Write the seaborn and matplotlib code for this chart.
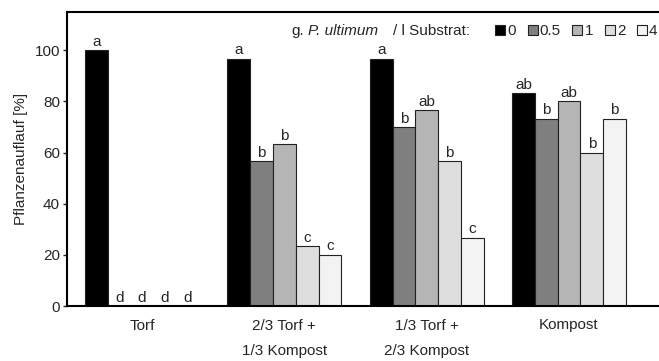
import pandas as pd
import matplotlib.pyplot as plt
import seaborn as sns
from matplotlib.patches import Patch

# Substrate categories and P. ultimum dose levels (g / l substrate)
substrate = ["Torf", "2/3 Torf +\n1/3 Kompost", "1/3 Torf +\n2/3 Kompost", "Kompost"]
doses = ["0", "0.5", "1", "2", "4"]

# emergence [%] per dose, in the order of substrate
auflauf_0 = [100, 96.7, 96.7, 83.3]
auflauf_05 = [0, 56.7, 70.0, 73.3]
auflauf_1 = [0, 63.3, 76.7, 80.0]
auflauf_2 = [0, 23.3, 56.7, 60.0]
auflauf_4 = [0, 20.0, 26.7, 73.3]

# significance letters per dose
letters_0 = ["a", "a", "a", "ab"]
letters_05 = ["d", "b", "b", "b"]
letters_1 = ["d", "b", "ab", "ab"]
letters_2 = ["d", "c", "b", "b"]
letters_4 = ["d", "c", "c", "b"]

colors = ["#000000", "#7f7f7f", "#b5b5b5", "#dedede", "#f3f3f3"]


def main():
    values = [auflauf_0, auflauf_05, auflauf_1, auflauf_2, auflauf_4]
    letters = [letters_0, letters_05, letters_1, letters_2, letters_4]

    rows = []
    for d, vals in zip(doses, values):
        for s, v in zip(substrate, vals):
            rows.append({"substrat": s, "dosis": d, "auflauf": v})
    df = pd.DataFrame(rows)

    sns.set_style("white")
    plt.rcParams["font.family"] = ["Liberation Sans", "DejaVu Sans"]

    fig = plt.figure(figsize=(6.59, 3.61), dpi=100)
    ax = fig.add_axes([67 / 659, 55 / 361, 592 / 659, 294 / 361])

    sns.barplot(data=df, x="substrat", y="auflauf", hue="dosis",
                order=substrate, hue_order=doses, palette=colors,
                width=0.8, edgecolor="#222222", linewidth=0.8,
                saturation=1, errorbar=None, legend=False, ax=ax)

    for cont, labs in zip(ax.containers, letters):
        ax.bar_label(cont, labels=labs, padding=1, fontsize=11)

    ax.set_ylim(0, 115)
    ax.set_xlim(-0.527, 3.632)
    ax.set_yticks([0, 20, 40, 60, 80, 100])
    ax.set_xlabel("")
    ax.set_ylabel("Pflanzenauflauf [%]", fontsize=11, labelpad=5)
    ax.tick_params(axis="y", left=True, length=3, width=1, labelsize=11, pad=2)
    ax.tick_params(axis="x", length=0, labelsize=11, pad=9)
    for lab in ax.get_xticklabels():
        lab.set_linespacing(2.0)
    for side in ["left", "bottom", "top"]:
        ax.spines[side].set_color("black")
        ax.spines[side].set_linewidth(1.5)
    ax.spines["right"].set_visible(False)

    # legend title in pieces (italic species name)
    fig.text(291 / 659, 1 - 31 / 361, "g.", fontsize=11, va="center")
    fig.text(308 / 659, 1 - 31 / 361, "P. ultimum", fontsize=11, style="italic", va="center")
    fig.text(393 / 659, 1 - 31 / 361, "/ l Substrat:", fontsize=11, va="center")

    handles = [Patch(facecolor=c, edgecolor="#222222", linewidth=0.8) for c in colors]
    fig.legend(handles, doses, ncol=5, loc="center right",
               bbox_to_anchor=(1.0, 1 - 31 / 361), frameon=False,
               fontsize=11, handlelength=0.65, handleheight=0.65,
               handletextpad=0.15, columnspacing=0.75, borderaxespad=0.0,
               borderpad=0.1)

    plt.savefig("out.png", dpi=100)


if __name__ == "__main__":
    main()
